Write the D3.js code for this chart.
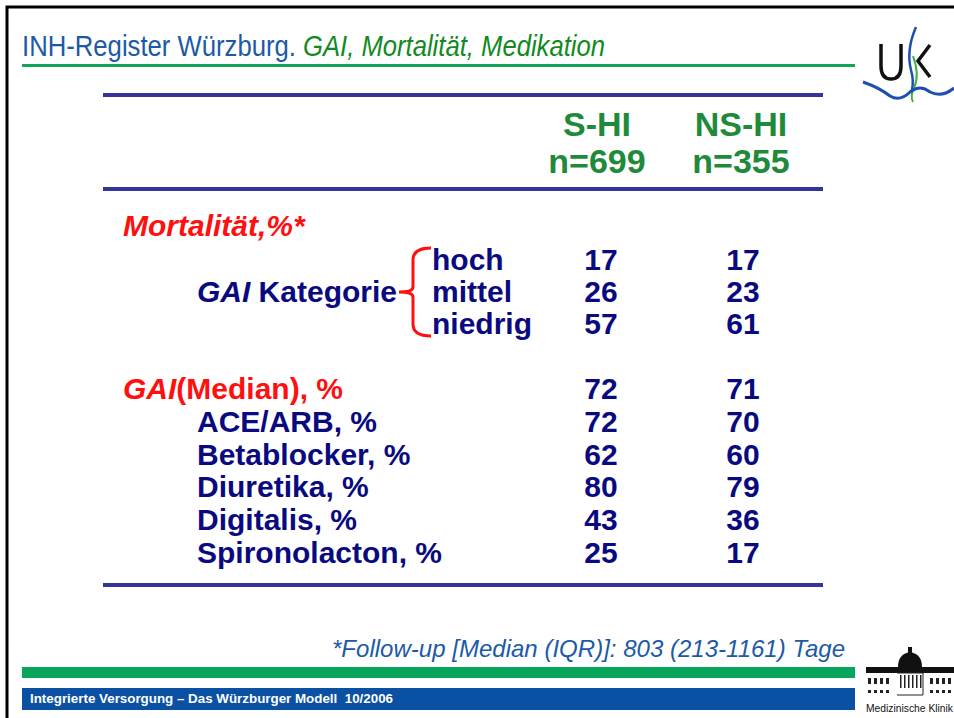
<!DOCTYPE html>
<html>
<head>
<meta charset="utf-8">
<script src="https://cdn.jsdelivr.net/npm/d3@7"></script>
<style>
  body { margin: 0; background: #fff; }
  svg { display: block; }
</style>
</head>
<body>
<div id="chart"></div>
<script>
const groups = ['S-HI', 'NS-HI']
const groupN = [699, 355]

const gaiCategories = ['hoch', 'mittel', 'niedrig']
const mortalitySHI = [17, 26, 57]
const mortalityNSHI = [17, 23, 61]

const gaiMedian = [72, 71]

const medications = ['ACE/ARB, %', 'Betablocker, %', 'Diuretika, %', 'Digitalis, %', 'Spironolacton, %']
const medSHI = [72, 62, 80, 43, 25]
const medNSHI = [70, 60, 79, 36, 17]

const W = 954, H = 718
const navy = '#0a0a80'
const red = '#ff1010'
const rule = '#333399'
const headGreen = '#1f8a3a'

const svg = d3.select('#chart').append('svg')
    .attr('width', W)
    .attr('height', H)
    .style('font-family', '"Liberation Sans", Arial, sans-serif')

// slide frame
svg.append('rect').attr('x', 7).attr('y', 7).attr('width', W).attr('height', H)
    .attr('fill', 'none').attr('stroke', '#000').attr('stroke-width', 3)

// title (narrow face squeezed with textLength)
svg.append('text').attr('x', 22).attr('y', 56)
    .attr('fill', '#1d5aa6').style('font-size', '29px')
    .attr('textLength', 274).attr('lengthAdjust', 'spacingAndGlyphs')
    .text('INH-Register Würzburg.')
svg.append('text').attr('x', 303).attr('y', 56)
    .attr('fill', '#118a22').style('font-size', '29px').style('font-style', 'italic')
    .attr('textLength', 302).attr('lengthAdjust', 'spacingAndGlyphs')
    .text('GAI, Mortalität, Medikation')

svg.append('rect').attr('x', 22).attr('y', 64).attr('width', 833).attr('height', 3).attr('fill', '#12a55a')

// column scale
const x = d3.scalePoint().domain(groups).range([601, 743])
const xHead = d3.scalePoint().domain(groups).range([597, 741])

// table rules
const rules = [95, 189, 585]
svg.selectAll('rect.rule').data(rules).enter().append('rect')
    .attr('class', 'rule')
    .attr('x', 103).attr('width', 720)
    .attr('y', d => d - 2).attr('height', 4)
    .attr('fill', rule)

// headers
const head = svg.append('g')
    .style('font-weight', 'bold')
    .style('font-size', '34px')
    .attr('fill', headGreen)
    .attr('text-anchor', 'middle')
head.selectAll('text.grp').data(groups).enter().append('text')
    .attr('class', 'grp')
    .attr('x', d => xHead(d)).attr('y', 136)
    .text(d => d)
head.selectAll('text.n').data(groupN).enter().append('text')
    .attr('class', 'n')
    .attr('x', (d, i) => xHead(groups[i])).attr('y', 173)
    .text(d => 'n=' + d)

// body
const body = svg.append('g').style('font-weight', 'bold').style('font-size', '30px')

body.append('text').attr('x', 123).attr('y', 236)
    .attr('fill', red).style('font-style', 'italic')
    .text('Mortalität,%*')

const yCat = d3.scalePoint().domain(gaiCategories).range([270, 334])

const kat = body.append('text').attr('x', 397).attr('y', yCat('mittel'))
    .attr('text-anchor', 'end').attr('fill', navy)
kat.append('tspan').style('font-style', 'italic').text('GAI')
kat.append('tspan').text(' Kategorie')

// brace
const bTop = yCat('hoch') - 22, bBot = yCat('niedrig') + 2, bMid = yCat('mittel') - 10
svg.append('path')
    .attr('d', `M431,${bTop} Q413,${bTop} 413,${bTop + 12} L413,${bMid - 5} Q413,${bMid} 399,${bMid}
                Q413,${bMid} 413,${bMid + 5} L413,${bBot - 12} Q413,${bBot} 431,${bBot}`)
    .attr('fill', 'none').attr('stroke', red).attr('stroke-width', 3)

body.selectAll('text.cat').data(gaiCategories).enter().append('text')
    .attr('class', 'cat')
    .attr('x', 432).attr('y', d => yCat(d))
    .attr('fill', navy)
    .text(d => d)

const numCols = (sel, vals, yf) => {
    groups.forEach((g, gi) => {
        sel.selectAll('text.v' + gi).data(vals[gi]).enter().append('text')
            .attr('class', 'v' + gi)
            .attr('x', x(g)).attr('y', (d, i) => yf(i))
            .attr('text-anchor', 'middle').attr('fill', navy)
            .text(d => d)
    })
}
numCols(body.append('g'), [mortalitySHI, mortalityNSHI], i => yCat(gaiCategories[i]))

// GAI median
const yMed = d3.scalePoint().domain(['GAI'].concat(medications)).range([399, 563])
const gm = body.append('text').attr('x', 123).attr('y', yMed('GAI')).attr('fill', red)
gm.append('tspan').style('font-style', 'italic').text('GAI')
gm.append('tspan').text('(Median), %')
numCols(body.append('g'), [[gaiMedian[0]], [gaiMedian[1]]], () => yMed('GAI'))

body.selectAll('text.med').data(medications).enter().append('text')
    .attr('class', 'med')
    .attr('x', 197).attr('y', d => yMed(d))
    .attr('fill', navy)
    .text(d => d)
numCols(body.append('g'), [medSHI, medNSHI], i => yMed(medications[i]))

// footnote
svg.append('text').attr('x', 332).attr('y', 657)
    .attr('fill', '#1d5aa6')
    .style('font-style', 'italic').style('font-size', '24px')
    .attr('textLength', 513).attr('lengthAdjust', 'spacingAndGlyphs')
    .text('*Follow-up [Median (IQR)]: 803 (213-1161) Tage')

// footer bars
svg.append('rect').attr('x', 22).attr('y', 667).attr('width', 833).attr('height', 11).attr('fill', '#0aa55c')
svg.append('rect').attr('x', 22).attr('y', 688).attr('width', 833).attr('height', 22).attr('fill', '#0a50a3')
svg.append('text').attr('x', 30).attr('y', 703)
    .attr('fill', '#fff').style('font-weight', 'bold').style('font-size', '12.5px')
    .style('white-space', 'pre')
    .attr('textLength', 363).attr('lengthAdjust', 'spacingAndGlyphs')
    .text('Integrierte Versorgung – Das Würzburger Modell  10/2006')

// UK logo
const logo = svg.append('g')
logo.append('path').attr('d', 'M881,44 L881,66 Q881,79 891,79 Q901,79 901,66 L901,44')
    .attr('fill', 'none').attr('stroke', '#111').attr('stroke-width', 3.5)
logo.append('path').attr('d', 'M930,45 L918,61 L930,77')
    .attr('fill', 'none').attr('stroke', '#111').attr('stroke-width', 3.5)
logo.append('path').attr('d', 'M916,27 Q906,50 911,70 Q914,80 912,90')
    .attr('fill', 'none').attr('stroke', '#1d4fb0').attr('stroke-width', 2.5)
logo.append('path').attr('d', 'M913,56 Q920,75 914,88 Q910,96 913,102')
    .attr('fill', 'none').attr('stroke', '#3bb24a').attr('stroke-width', 2)
logo.append('path').attr('d', 'M863,82 Q880,88 890,96 Q900,102 910,92 Q920,84 930,92 Q942,98 954,88')
    .attr('fill', 'none').attr('stroke', '#1d4fb0').attr('stroke-width', 3)

// Medizinische Klinik building
const bld = svg.append('g')
bld.append('rect').attr('x', 866).attr('y', 667).attr('width', 88).attr('height', 6).attr('fill', '#111')
bld.append('path').attr('d', 'M898,667 Q898,654 910,652 Q922,654 922,667 Z').attr('fill', '#111')
bld.append('rect').attr('x', 908).attr('y', 647).attr('width', 4).attr('height', 6).attr('fill', '#111')
const winX = d3.range(0, 8)
bld.selectAll('rect.w1').data(winX).enter().append('rect').attr('class', 'w1')
    .attr('x', d => 868 + d * 6 + (d >= 4 ? 38 : 0)).attr('y', 678).attr('width', 3).attr('height', 6).attr('fill', '#222')
bld.selectAll('rect.w2').data(winX).enter().append('rect').attr('class', 'w2')
    .attr('x', d => 868 + d * 6 + (d >= 4 ? 38 : 0)).attr('y', 690).attr('width', 3).attr('height', 3).attr('fill', '#222')
bld.append('path').attr('d', 'M897,673 L923,673 L923,695 L897,695').attr('fill', 'none').attr('stroke', '#222').attr('stroke-width', 1)
bld.selectAll('rect.col').data(d3.range(0, 6)).enter().append('rect').attr('class', 'col')
    .attr('x', d => 900 + d * 4).attr('y', 675).attr('width', 1.5).attr('height', 13).attr('fill', '#222')
svg.append('text').attr('x', 866).attr('y', 712).attr('fill', '#111')
    .style('font-size', '10.5px')
    .attr('textLength', 87).attr('lengthAdjust', 'spacingAndGlyphs')
    .text('Medizinische Klinik')
</script>
</body>
</html>
